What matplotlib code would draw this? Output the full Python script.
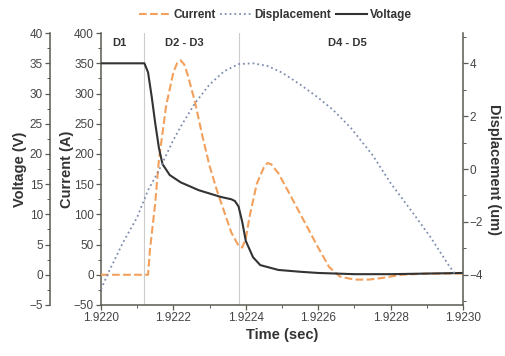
import matplotlib
matplotlib.use('Agg')
import matplotlib.pyplot as plt
from matplotlib.ticker import MultipleLocator, FormatStrFormatter

plt.rcParams['font.family'] = ['Liberation Sans', 'DejaVu Sans']

# Current (A)
t_cur = [1.92200, 1.92213, 1.922135, 1.92215, 1.92216, 1.92218, 1.92220, 1.92221,
         1.92222, 1.92223, 1.92224, 1.92226, 1.92228, 1.92230, 1.92232, 1.92234,
         1.92236, 1.92238, 1.92239, 1.92240, 1.92241, 1.92243, 1.92245, 1.92246,
         1.92247, 1.92249, 1.92252, 1.92256, 1.92260, 1.92263, 1.92266, 1.92270,
         1.92274, 1.92278, 1.92283, 1.92290, 1.92300]
current = [0, 0, 40, 120, 190, 280, 335, 350,
           355, 348, 330, 285, 230, 180, 140, 105,
           70, 48, 45, 60, 95, 150, 178, 185,
           183, 168, 135, 90, 45, 13, -3, -8,
           -8, -5, 0, 2, 2]

# Voltage (V)
t_volt = [1.92200, 1.92212, 1.92213, 1.92214, 1.92215, 1.92216, 1.92217, 1.92219,
          1.92222, 1.92227, 1.92233, 1.92236, 1.92237, 1.92238, 1.92239, 1.92240,
          1.92242, 1.92244, 1.92249, 1.92255, 1.92260, 1.92270, 1.92280, 1.92290,
          1.92300]
voltage = [35.0, 35.0, 33.5, 29.5, 25.0, 21.0, 18.3, 16.5,
           15.3, 14.0, 12.9, 12.5, 12.2, 11.3, 8.8, 5.6,
           2.9, 1.6, 0.8, 0.5, 0.3, 0.1, 0.1, 0.2,
           0.3]

# Displacement (um)
t_disp = [1.92200, 1.92202, 1.92206, 1.92210, 1.92213, 1.92216, 1.92220, 1.92222,
          1.92226, 1.92230, 1.92234, 1.92238, 1.92242, 1.92246, 1.92250, 1.92255,
          1.92260, 1.92264, 1.92269, 1.92275, 1.92280, 1.92286, 1.92291, 1.92296,
          1.92298]
displacement = [-4.55, -3.93, -2.8, -1.82, -0.8, -0.05, 1.1, 1.6,
                2.5, 3.2, 3.7, 3.97, 4.0, 3.9, 3.65, 3.2,
                2.7, 2.25, 1.56, 0.53, -0.53, -1.63, -2.57, -3.63,
                -4.0]

region_edges = [1.92212, 1.92238]
region_labels = ['D1', 'D2 - D3', 'D4 - D5']
region_label_x = [1.92205, 1.92223, 1.92268]

spine_col = '#5a5a50'
text_col = '#333333'

fig = plt.figure(figsize=(5.06, 3.56), dpi=100)
ax = fig.add_axes([0.1996, 0.1433, 0.7154, 0.7637])

# current axis
ax.plot(t_cur, current, linestyle='--', color='#f2a05c', linewidth=1.5, label='Current', zorder=3)
ax.set_xlim(1.9220, 1.9230)
ax.set_ylim(-50, 400)
ax.yaxis.set_major_locator(MultipleLocator(50))
ax.yaxis.set_minor_locator(MultipleLocator(25))
ax.xaxis.set_major_locator(MultipleLocator(0.0002))
ax.xaxis.set_minor_locator(MultipleLocator(0.0001))
ax.xaxis.set_major_formatter(FormatStrFormatter('%.4f'))
ax.set_xlabel('Time (sec)', fontsize=10.5, fontweight='bold', labelpad=3, color=text_col)
ax.set_ylabel('Current (A)', fontsize=10.5, fontweight='bold', labelpad=0, color=text_col)
ax.spines['top'].set_visible(False)
ax.spines['right'].set_visible(False)

for e in region_edges:
    ax.axvline(e, color='#cccccc', linewidth=0.8, zorder=1)
for lbl, xl in zip(region_labels, region_label_x):
    ax.text(xl, 383, lbl, fontsize=8, fontweight='bold', color=text_col, ha='center', va='center')

# voltage axis
ax_v = ax.twinx()
ax_v.plot(t_volt, voltage, color='#333333', linewidth=1.5, label='Voltage', zorder=4)
ax_v.set_ylim(-5, 40)
ax_v.yaxis.set_major_locator(MultipleLocator(5))
ax_v.yaxis.set_minor_locator(MultipleLocator(2.5))
ax_v.spines['left'].set_position(('axes', -0.141))
ax_v.spines['left'].set_visible(True)
ax_v.spines['right'].set_visible(False)
ax_v.spines['top'].set_visible(False)
ax_v.spines['bottom'].set_visible(False)
ax_v.yaxis.set_label_position('left')
ax_v.yaxis.set_ticks_position('left')
ax_v.set_ylabel('Voltage (V)', fontsize=10.5, fontweight='bold', labelpad=2, color=text_col)

# displacement axis
ax_d = ax.twinx()
ax_d.plot(t_disp, displacement, linestyle=':', color='#7f8db0', linewidth=1.3, label='Displacement', zorder=2)
ax_d.set_ylim(-5.143, 5.143)
ax_d.yaxis.set_major_locator(MultipleLocator(2))
ax_d.yaxis.set_minor_locator(MultipleLocator(1))
ax_d.spines['top'].set_visible(False)
ax_d.spines['left'].set_visible(False)
ax_d.spines['bottom'].set_visible(False)
ax_d.set_ylabel('Displacement (um)', fontsize=10.5, fontweight='bold', rotation=270, labelpad=13,
                color=text_col)

for a in (ax, ax_v, ax_d):
    for s in a.spines.values():
        s.set_color(spine_col)
        s.set_linewidth(1.1)
    a.tick_params(which='major', length=3.5, width=0.9, color=spine_col, labelsize=8.5,
                  labelcolor='#444444', pad=1.5)
    a.tick_params(which='minor', length=2, width=0.7, color=spine_col)

handles = [ax.get_lines()[0], ax_d.get_lines()[0], ax_v.get_lines()[0]]
fig.legend(handles, [h.get_label() for h in handles], loc='center', bbox_to_anchor=(0.545, 0.958),
           ncol=3, frameon=False, prop={'size': 8.5, 'weight': 'bold'}, labelcolor=text_col,
           handlelength=2.6, columnspacing=0.4, handletextpad=0.3)

fig.savefig('out.png', dpi=100)
